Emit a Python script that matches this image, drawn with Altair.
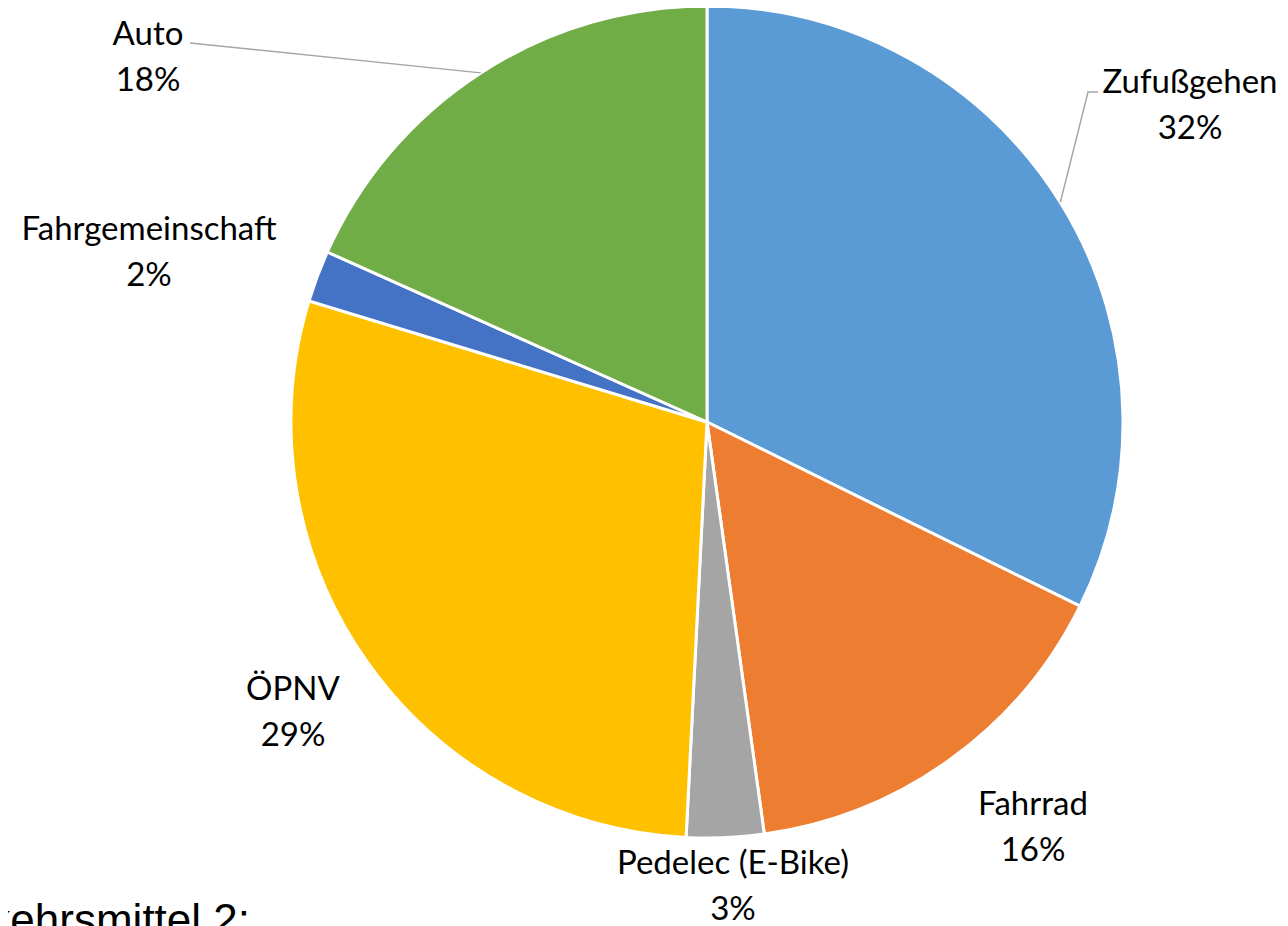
import math
import altair as alt
import pandas as pd

# ---- data ----
categories = ["Zufußgehen", "Fahrrad", "Pedelec (E-Bike)", "ÖPNV", "Fahrgemeinschaft", "Auto"]
shares = [32.3, 15.5, 3.0, 28.9, 2.0, 18.3]
pct_labels = ["32%", "16%", "3%", "29%", "2%", "18%"]
colors = ["#5B9BD5", "#ED7D31", "#A5A5A5", "#FFC000", "#4472C4", "#70AD47"]
footer_text = ["Verkehrsmittel 2:"]

# ---- layout ----
CX, CY, R = 699, 414, 416
label_offsets = [(483, -339), (326, 383), (26, 442), (-414, 268), (-558, -192), (-559, -387)]
leader_starts = {"Zufußgehen": [(391, -330), (381, -330)], "Auto": [(-517, -379)]}

df = pd.DataFrame({"category": categories, "share": shares, "pct": pct_labels, "idx": range(len(categories))})
df["label"] = df["category"] + "\n" + df["pct"]
df["lx"] = [CX + o[0] for o in label_offsets]
df["ly"] = [CY + o[1] for o in label_offsets]

total = sum(shares)
mids = {}
acc = 0.0
for c, s in zip(categories, shares):
    mids[c] = (acc + s / 2) / total * 2 * math.pi
    acc += s

rows = []
for c, pts in leader_starts.items():
    k = 0
    for (dx, dy) in pts:
        rows.append({"g": c, "o": k, "x": CX + dx, "y": CY + dy}); k += 1
    a = mids[c]
    rows.append({"g": c, "o": k, "x": CX + R * math.sin(a), "y": CY - R * math.cos(a)})
lead = pd.DataFrame(rows)

pie = alt.Chart(df).mark_arc(outerRadius=R, stroke="white", strokeWidth=3).encode(
    theta=alt.Theta("share:Q", stack=True),
    color=alt.Color("category:N", scale=alt.Scale(domain=categories, range=colors), legend=None),
    order=alt.Order("idx:Q"),
    x=alt.value(CX), y=alt.value(CY),
)

leaders = alt.Chart(lead).mark_line(color="#A6A6A6", strokeWidth=1.5).encode(
    x=alt.X("x:Q", scale=None, axis=None),
    y=alt.Y("y:Q", scale=None, axis=None),
    detail="g:N", order="o:Q",
)

labels = alt.Chart(df).mark_text(font="Lato", fontSize=33, lineBreak="\n", lineHeight=46,
                                 align="center", baseline="middle", color="black").encode(
    x=alt.X("lx:Q", scale=None, axis=None),
    y=alt.Y("ly:Q", scale=None, axis=None),
    text="label:N",
)

footer = alt.Chart(pd.DataFrame({"t": footer_text})).mark_text(
    font="Liberation Sans", fontSize=44, align="right", baseline="alphabetic", color="black"
).encode(x=alt.value(242), y=alt.value(927), text="t:N")

chart = alt.layer(pie, leaders, labels, footer).properties(
    width=1272, height=918, padding=0, autosize=alt.AutoSizeParams(type="none")
).configure_view(stroke=None)

chart.save("out.html", embed_options={"renderer": "svg", "actions": False})
